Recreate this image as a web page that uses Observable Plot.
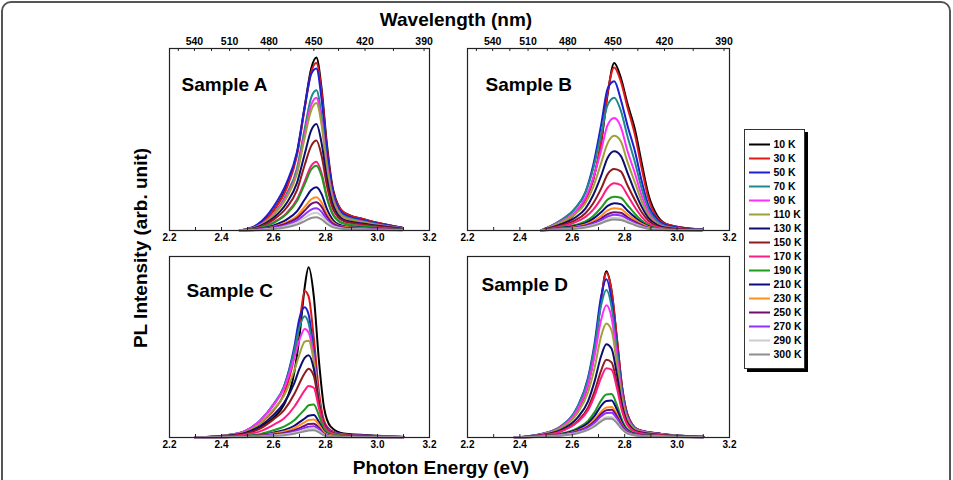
<!DOCTYPE html>
<html><head><meta charset="utf-8">
<script src="https://cdn.jsdelivr.net/npm/d3@7"></script>
<script src="https://cdn.jsdelivr.net/npm/@observablehq/plot@0.6"></script>
<style>
body{margin:0;background:#fff;font-family:"Liberation Sans",Arial,sans-serif;}
#fig{position:relative;width:953px;height:480px;overflow:hidden;background:#fff;}
.abs{position:absolute;}
.title{position:absolute;font-weight:bold;font-size:19px;line-height:19px;white-space:nowrap;color:#000;}
#border{position:absolute;left:1px;top:1px;width:950px;height:520px;box-sizing:border-box;border:2px solid #555;border-radius:10px;}
#legend{position:absolute;left:744px;top:129px;width:59px;height:238px;border:1px solid #333;box-shadow:3px 3px 0 #000;background:#fff;}
</style></head><body>
<div id="fig">
  <div id="border"></div>
  <div class="title" style="left:456px;top:10px;transform:translateX(-50%)">Wavelength (nm)</div>
  <div class="title" style="left:441px;top:458px;transform:translateX(-50%)">Photon Energy (eV)</div>
  <div class="title" style="left:140px;top:248px;transform:translate(-50%,-50%) rotate(-90deg)">PL Intensity (arb. unit)</div>
  <div class="abs" id="pA" style="left:150px;top:25px"></div>
  <div class="abs" id="pB" style="left:448px;top:25px"></div>
  <div class="abs" id="pC" style="left:150px;top:240px"></div>
  <div class="abs" id="pD" style="left:448px;top:240px"></div>
  <div id="legend"></div>
</div>
<script>
const temperatures = ["10 K","30 K","50 K","70 K","90 K","110 K","130 K","150 K","170 K","190 K","210 K","230 K","250 K","270 K","290 K","300 K"];
const lineColors = ["#000000","#e01818","#1e1ed2","#1c8a8a","#ff2cff","#a0a038","#0e0e6e","#8e1c1c","#ff1c82","#1e9a1e","#0c0c7e","#ff8e1e","#6e106e","#9030ff","#cccccc","#8e8e8e"];
const energyTicks = [2.2, 2.4, 2.6, 2.8, 3.0, 3.2];
const energyMinor = [2.3, 2.5, 2.7, 2.9, 3.1];
const wavelengthTicks = [540, 510, 480, 450, 420, 390];
const wavelengthMinor = [555, 525, 495, 465, 435, 405];
const HC = 1239.84; // eV·nm

// Sample A
const energyA = [2.47, 2.54, 2.60, 2.65, 2.69, 2.72, 2.745, 2.765, 2.785, 2.805, 2.83, 2.87, 2.95, 3.095];
const intensityA = [
  [0, 3, 11, 24, 42, 68, 89, 95, 78, 48, 22, 10, 6, 1.5],
  [0, 3, 11, 23, 41, 67, 87, 92, 76, 46, 21, 10, 6, 1.5],
  [0, 3.5, 13, 26, 43, 68, 86, 89, 72, 44, 20, 9, 5.5, 1.5],
  [0, 2.5, 9, 20, 34, 56, 73, 77, 63, 38, 18, 8, 5, 1.2],
  [0, 2.5, 9, 19, 32, 53, 69, 73, 60, 37, 17, 7.5, 4.6, 1.2],
  [0, 2.3, 8.5, 18, 31, 51, 66, 70, 58, 35, 16, 7.4, 4.4, 1.1],
  [0, 2, 7, 15, 26, 42, 55, 58.5, 48, 29, 13.5, 6, 3.7, 1],
  [0, 1.6, 6, 12.5, 22, 36, 46.5, 49.4, 41, 25, 11.5, 5.2, 3.1, 0.8],
  [0, 1.2, 4.5, 9.5, 17, 27, 35.5, 37.8, 31.5, 19, 8.8, 4, 2.4, 0.6],
  [0, 1.1, 4.2, 9, 16, 25.5, 33.5, 35.6, 30, 18, 8.3, 3.8, 2.2, 0.6],
  [0, 0.8, 2.8, 6, 10.5, 17, 22.3, 23.8, 20, 12, 5.6, 2.5, 1.5, 0.4],
  [0, 0.6, 2.1, 4.6, 8, 13, 17.2, 18.3, 15.3, 9.2, 4.3, 2, 1.2, 0.3],
  [0, 0.5, 1.8, 3.9, 6.8, 11, 14.6, 15.5, 13, 7.8, 3.6, 1.7, 1, 0.3],
  [0, 0.4, 1.4, 3, 5.4, 8.8, 11.5, 12.2, 10.2, 6.1, 2.8, 1.3, 0.8, 0.2],
  [0, 0.3, 1.1, 2.4, 4.3, 7, 9.1, 9.7, 8.1, 4.9, 2.2, 1, 0.6, 0.2],
  [0, 0.2, 0.8, 1.8, 3.2, 5.2, 6.9, 7.3, 6.1, 3.7, 1.7, 0.8, 0.5, 0.1]
];

// Sample B
const energyB = [2.48, 2.55, 2.61, 2.65, 2.68, 2.71, 2.735, 2.76, 2.785, 2.81, 2.84, 2.865, 2.89, 2.925, 2.97, 3.095];
const intensityB = [
  [0, 3, 9, 17, 28, 48, 75, 92, 84, 70, 55, 37, 20, 8, 3, 0.5],
  [0, 3, 9, 17, 28, 49, 76, 89.6, 82, 68, 52, 34, 18, 7, 3, 0.5],
  [0, 5, 12, 21, 36, 58, 78, 82, 72, 58, 43, 27, 14, 6, 2.5, 0.5],
  [0, 5, 12, 21, 34, 53, 69, 73, 66, 52, 37, 23, 12, 5, 2, 0.4],
  [0, 4.5, 10, 18, 29, 44, 58, 61.8, 57, 44, 31, 19, 10, 4, 1.7, 0.3],
  [0, 4, 9, 15, 24, 37, 48, 52, 49, 38, 26, 16, 8.5, 3.5, 1.5, 0.3],
  [0, 3, 7, 12, 19.5, 30, 40, 43.5, 41, 32, 21, 13, 7, 3, 1.2, 0.3],
  [0, 2.5, 5.5, 9.5, 15, 23, 31, 33.8, 32.5, 25, 16.5, 10, 5.5, 2.3, 1, 0.2],
  [0, 2, 4.5, 7.5, 11.5, 17.5, 23.5, 26, 25, 19.5, 12.5, 7.5, 4, 1.8, 0.8, 0.2],
  [0, 1.5, 3, 5, 8, 12.5, 17, 18.6, 18, 14, 9, 5.5, 3, 1.3, 0.6, 0.1],
  [0, 1.2, 2.5, 4, 6.5, 10, 13.5, 15, 14.5, 11, 7.2, 4.4, 2.4, 1, 0.5, 0.1],
  [0, 1, 2, 3.3, 5.2, 8, 11, 12.2, 11.8, 9, 5.8, 3.6, 2, 0.9, 0.4, 0.1],
  [0, 0.8, 1.7, 2.7, 4.3, 6.6, 9, 10, 9.7, 7.4, 4.8, 3, 1.6, 0.7, 0.3, 0.1],
  [0, 0.7, 1.4, 2.3, 3.7, 5.7, 7.7, 8.6, 8.3, 6.4, 4.1, 2.5, 1.4, 0.6, 0.3, 0.1],
  [0, 0.6, 1.2, 1.9, 3, 4.6, 6.3, 7, 6.8, 5.2, 3.4, 2, 1.1, 0.5, 0.2, 0.1],
  [0, 0.5, 1, 1.6, 2.6, 4, 5.4, 6, 5.8, 4.5, 2.9, 1.8, 1, 0.4, 0.2, 0.1]
];

// Sample C
const energyC = [2.30, 2.42, 2.49, 2.55, 2.60, 2.64, 2.68, 2.70, 2.72, 2.735, 2.755, 2.775, 2.795, 2.82, 2.87, 3.0, 3.1];
const intensityC = [
  [0, 1, 2.5, 6, 11, 18, 36, 56, 83, 94, 78, 42, 16, 6, 2.2, 1, 0.3],
  [0, 1.2, 3, 8, 15, 24, 45, 63, 81, 78, 55, 25, 9, 4, 1.8, 0.8, 0.3],
  [0, 1.3, 3.5, 9.6, 18, 28, 50, 66, 72, 68, 47, 20, 7.5, 3.5, 1.6, 0.8, 0.3],
  [0, 1.3, 3.5, 9.6, 18.5, 28, 48, 61, 67, 63, 45, 20, 7, 3.3, 1.5, 0.7, 0.3],
  [0, 1.3, 3.5, 9.5, 18, 27, 44, 54, 60, 58, 44, 20, 7, 3.2, 1.5, 0.7, 0.3],
  [0, 1.2, 3, 8, 15.5, 23, 37, 46, 53, 53.5, 42, 20, 7, 3, 1.4, 0.6, 0.2],
  [0, 1, 2.5, 6.5, 12.5, 19, 30, 38, 44, 45.5, 38, 19, 7, 3, 1.3, 0.6, 0.2],
  [0, 0.8, 2, 5, 10, 15, 24, 30, 35.5, 38, 34, 18, 6.5, 2.8, 1.2, 0.5, 0.2],
  [0, 0.6, 1.5, 3.5, 7, 10.5, 17, 21.5, 26, 28.5, 27.5, 16, 6, 2.5, 1.1, 0.5, 0.2],
  [0, 0.4, 0.9, 2, 4, 6, 9.5, 12.5, 15.5, 17.8, 18.3, 12, 4.5, 2, 0.9, 0.4, 0.1],
  [0, 0.3, 0.6, 1.4, 2.7, 4, 6.5, 8.5, 10.5, 12, 12.4, 8.5, 3.2, 1.4, 0.6, 0.3, 0.1],
  [0, 0.2, 0.5, 1.1, 2.2, 3.3, 5.2, 6.8, 8.5, 9.7, 10, 7, 2.7, 1.2, 0.5, 0.2, 0.1],
  [0, 0.2, 0.4, 0.9, 1.7, 2.5, 4, 5.2, 6.5, 7.4, 7.6, 5.3, 2, 0.9, 0.4, 0.2, 0.1],
  [0, 0.2, 0.3, 0.7, 1.4, 2, 3.3, 4.3, 5.3, 6, 6.2, 4.4, 1.7, 0.7, 0.3, 0.2, 0.1],
  [0, 0.1, 0.3, 0.6, 1.1, 1.6, 2.6, 3.4, 4.2, 4.8, 5, 3.5, 1.4, 0.6, 0.3, 0.1, 0.1],
  [0, 0.1, 0.2, 0.5, 0.9, 1.3, 2.1, 2.7, 3.4, 3.9, 4, 2.8, 1.1, 0.5, 0.2, 0.1, 0]
];

// Sample D
const energyD = [2.38, 2.49, 2.555, 2.62, 2.66, 2.685, 2.71, 2.73, 2.75, 2.77, 2.79, 2.81, 2.85, 2.94, 3.1];
const intensityD = [
  [0, 2, 5, 15, 29, 47, 76, 91.9, 81, 55, 28, 13, 4.5, 2, 0.4],
  [0, 2, 5, 15, 29, 47, 76, 91, 81, 55, 28, 13, 4.5, 2, 0.4],
  [0, 2.2, 6, 17, 33, 52, 78, 87.5, 76, 51, 26, 12, 4.3, 1.9, 0.4],
  [0, 2.2, 6, 17, 32, 50, 73, 81.5, 72, 49, 25, 11.5, 4.2, 1.8, 0.4],
  [0, 2, 5.5, 15.5, 29, 45, 65, 73, 66, 45, 23, 11, 4, 1.7, 0.4],
  [0, 1.8, 5, 13.5, 25, 38.5, 56, 63, 59, 41, 21, 10, 3.7, 1.6, 0.4],
  [0, 1.5, 4, 11, 20, 31, 45, 51.5, 49, 35, 18, 8.5, 3.2, 1.4, 0.3],
  [0, 1.3, 3.5, 9, 16.5, 25.5, 37, 43, 41.5, 30, 16, 7.5, 2.8, 1.2, 0.3],
  [0, 1.2, 3.2, 8.5, 15, 23, 33, 38.3, 37.5, 27.5, 14.5, 7, 2.6, 1.1, 0.3],
  [0, 0.8, 2, 5.2, 9.2, 14, 20.5, 23.8, 24, 18, 9.6, 4.7, 1.8, 0.8, 0.2],
  [0, 0.7, 1.8, 4.5, 8, 12, 17.5, 20.2, 20.5, 15.5, 8.3, 4, 1.6, 0.7, 0.2],
  [0, 0.6, 1.5, 3.8, 6.6, 10, 14.3, 16.6, 16.8, 12.8, 7, 3.4, 1.4, 0.6, 0.2],
  [0, 0.6, 1.4, 3.5, 6, 9, 13, 15.1, 15.3, 11.7, 6.4, 3.1, 1.3, 0.6, 0.2],
  [0, 0.5, 1.3, 3.1, 5.4, 8.1, 11.7, 13.5, 13.7, 10.5, 5.8, 2.8, 1.2, 0.5, 0.2],
  [0, 0.5, 1.1, 2.6, 4.5, 6.7, 9.7, 11.2, 11.3, 8.7, 4.8, 2.4, 1, 0.5, 0.1],
  [0, 0.4, 1, 2.4, 4.2, 6.2, 8.9, 10.3, 10.4, 8, 4.5, 2.2, 1, 0.4, 0.1]
];

const sampleNames = ["Sample A", "Sample B", "Sample C", "Sample D"];

function toRows(energy, intensity) {
  return intensity.flatMap((series, k) => series.map((v, j) => ({e: energy[j], i: v, t: temperatures[k]})));
}

const FONT = "'Liberation Sans', Arial, Helvetica, sans-serif";

function panel(el, energy, intensity, name, opts) {
  const frameH = opts.height - opts.marginTop - opts.marginBottom;
  const marks = [
    Plot.line(toRows(energy, intensity), {x: "e", y: "i", z: "t", stroke: "t", curve: "monotone-x", strokeWidth: 2, strokeLinejoin: "round"}),
    Plot.frame({stroke: "#222", strokeWidth: 1.2}),
    Plot.ruleX(energyTicks.concat(energyMinor), {insetTop: frameH - 3, stroke: "#222"}),
    Plot.axisX({anchor: "bottom", ticks: energyTicks, tickSize: 0, tickPadding: 3, tickFormat: d3.format(".1f"), label: null, fontSize: 10, fontWeight: "bold"}),
    Plot.text([name], {frameAnchor: "top-left", textAnchor: "start", dx: opts.nameDx, dy: opts.nameDy, fontSize: 19, fontWeight: "bold", fill: "#000"})
  ];
  if (opts.topAxis) {
    marks.push(
      Plot.ruleX(wavelengthTicks.concat(wavelengthMinor).map(w => HC / w), {insetBottom: frameH - 3, stroke: "#222"}),
      Plot.axisX({anchor: "top", ticks: wavelengthTicks.map(w => HC / w), tickSize: 0, tickPadding: 4, tickFormat: d => Math.round(HC / d), label: null, fontSize: 10.5, fontWeight: "bold"})
    );
  }
  const chart = Plot.plot({
    width: opts.width, height: opts.height,
    marginLeft: opts.marginLeft, marginRight: opts.marginRight,
    marginTop: opts.marginTop, marginBottom: opts.marginBottom,
    x: {domain: [2.2, 3.2]},
    y: {domain: [0, 100], axis: null},
    color: {domain: temperatures, range: lineColors},
    style: {fontFamily: FONT, fontWeight: "bold", background: "transparent", overflow: "visible", color: "#000"},
    marks
  });
  document.getElementById(el).appendChild(chart);
}

panel("pA", energyA, intensityA, sampleNames[0], {width: 300, height: 223, marginLeft: 19, marginRight: 21, marginTop: 23, marginBottom: 18, topAxis: true, nameDx: 12, nameDy: 29});
panel("pB", energyB, intensityB, sampleNames[1], {width: 300, height: 223, marginLeft: 19, marginRight: 19, marginTop: 23, marginBottom: 18, topAxis: true, nameDx: 18, nameDy: 29});
panel("pC", energyC, intensityC, sampleNames[2], {width: 300, height: 215, marginLeft: 19, marginRight: 21, marginTop: 16, marginBottom: 18, topAxis: false, nameDx: 17, nameDy: 27});
panel("pD", energyD, intensityD, sampleNames[3], {width: 300, height: 215, marginLeft: 19, marginRight: 19, marginTop: 16, marginBottom: 18, topAxis: false, nameDx: 14, nameDy: 21});

// Legend
const legend = Plot.plot({
  width: 59, height: 238,
  marginLeft: 4, marginRight: 34, marginTop: 11, marginBottom: 12,
  y: {type: "point", domain: temperatures, padding: 0, axis: null},
  color: {domain: temperatures, range: lineColors},
  style: {fontFamily: FONT, fontWeight: "bold", background: "transparent", overflow: "visible"},
  marks: [
    Plot.ruleY(temperatures, {y: d => d, stroke: d => d, strokeWidth: 2}),
    Plot.text(temperatures, {y: d => d, text: d => d, frameAnchor: "right", textAnchor: "start", dx: 3, fontSize: 10.5, fontWeight: "bold", fill: "#000"})
  ]
});
document.getElementById("legend").appendChild(legend);
</script>
</body></html>
